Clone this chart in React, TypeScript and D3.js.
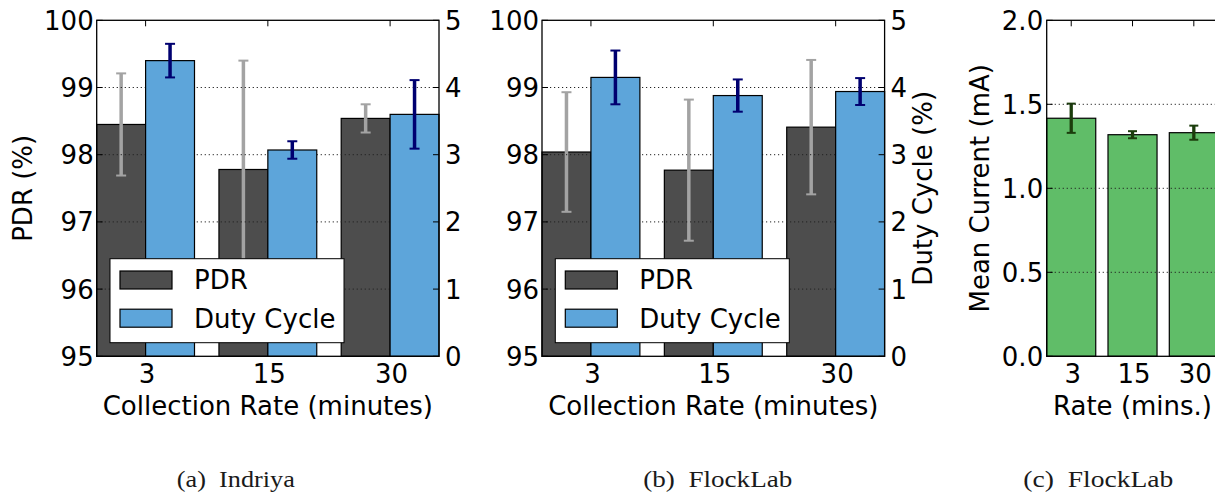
import React from "react";
import * as d3 from "d3";

// ---------- data ----------
const rates = ["3", "15", "30"];

const indriyaPdr = [98.45, 97.78, 98.54];
const indriyaPdrErr = [0.76, 1.62, 0.21];
const indriyaDuty = [4.4, 3.07, 3.6];
const indriyaDutyErr = [0.25, 0.13, 0.51];

const flocklabPdr = [98.04, 97.77, 98.41];
const flocklabPdrErr = [0.89, 1.05, 1.0];
const flocklabDuty = [4.15, 3.88, 3.94];
const flocklabDutyErr = [0.4, 0.24, 0.2];

const currentMean = [1.417, 1.319, 1.331];
const currentErr = [0.087, 0.021, 0.042];

const pdrTicks = [95, 96, 97, 98, 99, 100];
const dutyTicks = [0, 1, 2, 3, 4, 5];
const currentTicks = [0, 0.5, 1.0, 1.5, 2.0];

const captions = ["(a)  Indriya", "(b)  FlockLab", "(c)  FlockLab"];

// ---------- style ----------
const FONT = "DejaVu Sans, Verdana, sans-serif";
const FS = 26;
const C_PDR = "#4d4d4d";
const C_DUTY = "#5da5da";
const C_CUR = "#60bd68";
const C_PDR_ERR = "#a3a3a3";
const C_DUTY_ERR = "#000070";
const C_CUR_ERR = "#1b3d0c";

const TOP = 20.3;
const BOTTOM = 356.3;
const TICK = 6;
const VOFF = 9.4;

function ErrBar({ x, y0, y1, color, w = 3.5, cap = 10 }: any) {
  return (
    <g>
      <line x1={x} x2={x} y1={y0} y2={y1} stroke={color} strokeWidth={w} />
      <line x1={x - cap / 2} x2={x + cap / 2} y1={y0} y2={y0} stroke={color} strokeWidth={2} />
      <line x1={x - cap / 2} x2={x + cap / 2} y1={y1} y2={y1} stroke={color} strokeWidth={2} />
    </g>
  );
}

function DualPanel({ left, right, pdr, pdrErr, duty, dutyErr, showRightLabel }: any) {
  const x = d3.scaleLinear().domain([-0.4, 2.4]).range([left, right]);
  const yL = d3.scaleLinear().domain([95, 100]).range([BOTTOM, TOP]);
  const yR = d3.scaleLinear().domain([0, 5]).range([BOTTOM, TOP]);
  const bw = 0.4;
  const idx = rates.map((_, i) => i);
  const gridVals = pdrTicks.filter((t) => t > 95 && t < 100);
  const legX = left + 13.3;
  const legY = 258.7;
  return (
    <g fontFamily={FONT}>
      {idx.map((i) => (
        <rect
          key={"p" + i}
          x={x(i - bw)}
          y={yL(pdr[i])}
          width={x(i) - x(i - bw)}
          height={BOTTOM - yL(pdr[i])}
          fill={C_PDR}
          stroke="#000"
          strokeWidth={1.2}
        />
      ))}
      {idx.map((i) => (
        <ErrBar
          key={"pe" + i}
          x={x(i - bw / 2)}
          y0={yL(pdr[i] + pdrErr[i])}
          y1={yL(pdr[i] - pdrErr[i])}
          color={C_PDR_ERR}
        />
      ))}
      {gridVals.map((t) => (
        <line
          key={"g" + t}
          x1={left}
          x2={right}
          y1={yL(t)}
          y2={yL(t)}
          stroke="#222"
          strokeWidth={1}
          strokeDasharray="1.2,2.8"
        />
      ))}
      {pdrTicks.map((t) => (
        <line key={"lt" + t} x1={left} x2={left + TICK} y1={yL(t)} y2={yL(t)} stroke="#000" strokeWidth={1} />
      ))}
      {idx.map((i) => (
        <line key={"tt" + i} x1={x(i)} x2={x(i)} y1={TOP} y2={TOP + TICK} stroke="#000" strokeWidth={1} />
      ))}
      {idx.map((i) => (
        <rect
          key={"d" + i}
          x={x(i)}
          y={yR(duty[i])}
          width={x(i + bw) - x(i)}
          height={BOTTOM - yR(duty[i])}
          fill={C_DUTY}
          stroke="#000"
          strokeWidth={1.2}
        />
      ))}
      {idx.map((i) => (
        <ErrBar
          key={"de" + i}
          x={x(i + bw / 2)}
          y0={yR(duty[i] + dutyErr[i])}
          y1={yR(duty[i] - dutyErr[i])}
          color={C_DUTY_ERR}
        />
      ))}
      {dutyTicks.map((t) => (
        <line key={"rt" + t} x1={right - TICK} x2={right} y1={yR(t)} y2={yR(t)} stroke="#000" strokeWidth={1} />
      ))}
      <rect x={left} y={TOP} width={right - left} height={BOTTOM - TOP} fill="none" stroke="#000" strokeWidth={1.3} />
      <rect x={legX} y={legY} width={234} height={84} fill="#fff" stroke="#000" strokeWidth={1} />
      <rect x={legX + 10} y={legY + 12.3} width={52} height={18} fill={C_PDR} stroke="#000" strokeWidth={1.2} />
      <rect x={legX + 10} y={legY + 50.5} width={52} height={18} fill={C_DUTY} stroke="#000" strokeWidth={1.2} />
      <text x={legX + 84} y={legY + 30} fontSize={FS}>PDR</text>
      <text x={legX + 84} y={legY + 69} fontSize={FS}>Duty Cycle</text>
      {pdrTicks.map((t) => (
        <text key={"ll" + t} x={left - 3} y={yL(t) + VOFF} fontSize={FS} textAnchor="end">
          {t}
        </text>
      ))}
      {dutyTicks.map((t) => (
        <text key={"rl" + t} x={right + 6} y={yR(t) + VOFF} fontSize={FS} textAnchor="start">
          {t}
        </text>
      ))}
      {idx.map((i) => (
        <text key={"xl" + i} x={x(i) + 1.5} y={382.5} fontSize={FS} textAnchor="middle">
          {rates[i]}
        </text>
      ))}
      <text x={(left + right) / 2} y={415} fontSize={FS} textAnchor="middle">
        Collection Rate (minutes)
      </text>
      {showRightLabel ? (
        <text transform={`translate(${right + 47},${(TOP + BOTTOM) / 2}) rotate(-90)`} fontSize={FS} textAnchor="middle">
          Duty Cycle (%)
        </text>
      ) : null}
    </g>
  );
}

function CurrentPanel({ left }: any) {
  const unit = 61.3;
  const right = left + 2.8 * unit;
  const x = d3.scaleLinear().domain([-0.4, 2.4]).range([left, right]);
  const y = d3.scaleLinear().domain([0, 2]).range([BOTTOM, TOP]);
  const idx = rates.map((_, i) => i);
  const bw = 0.8;
  const fmt = d3.format(".1f");
  return (
    <g fontFamily={FONT}>
      {idx.map((i) => (
        <rect
          key={"c" + i}
          x={x(i - bw / 2)}
          y={y(currentMean[i])}
          width={x(i + bw / 2) - x(i - bw / 2)}
          height={BOTTOM - y(currentMean[i])}
          fill={C_CUR}
          stroke="#000"
          strokeWidth={1.2}
        />
      ))}
      {idx.map((i) => (
        <ErrBar
          key={"ce" + i}
          x={x(i)}
          y0={y(currentMean[i] + currentErr[i])}
          y1={y(currentMean[i] - currentErr[i])}
          color={C_CUR_ERR}
          w={3.3}
          cap={9}
        />
      ))}
      {currentTicks
        .filter((t) => t > 0 && t < 2)
        .map((t) => (
          <line
            key={"g" + t}
            x1={left}
            x2={right}
            y1={y(t)}
            y2={y(t)}
            stroke="#222"
            strokeWidth={1}
            strokeDasharray="1.2,2.8"
          />
        ))}
      {currentTicks.map((t) => (
        <line key={"lt" + t} x1={left} x2={left + TICK} y1={y(t)} y2={y(t)} stroke="#000" strokeWidth={1} />
      ))}
      {idx.map((i) => (
        <line key={"tt" + i} x1={x(i)} x2={x(i)} y1={TOP} y2={TOP + TICK} stroke="#000" strokeWidth={1} />
      ))}
      <rect x={left} y={TOP} width={right - left} height={BOTTOM - TOP} fill="none" stroke="#000" strokeWidth={1.3} />
      {currentTicks.map((t) => (
        <text key={"ll" + t} x={left - 3.5} y={y(t) + VOFF} fontSize={FS} textAnchor="end">
          {fmt(t)}
        </text>
      ))}
      {idx.map((i) => (
        <text key={"xl" + i} x={x(i) + 1.5} y={382.5} fontSize={FS} textAnchor="middle">
          {rates[i]}
        </text>
      ))}
      <text x={(left + right) / 2} y={415} fontSize={FS} textAnchor="middle">
        Rate (mins.)
      </text>
      <text transform={`translate(${left - 58},${(TOP + BOTTOM) / 2}) rotate(-90)`} fontSize={FS} textAnchor="middle">
        Mean Current (mA)
      </text>
    </g>
  );
}

export default function App() {
  const capX = [235.8, 717.8, 1098.3];
  const capW = [118, 149, 150];
  return (
    <svg
      width={1215}
      height={494}
      viewBox="0 0 1215 494"
      style={{ position: "absolute", left: 0, top: 0, background: "#fff" }}
    >
      <rect x={0} y={0} width={1215} height={494} fill="#fff" />
      <DualPanel
        left={96.7}
        right={439}
        pdr={indriyaPdr}
        pdrErr={indriyaPdrErr}
        duty={indriyaDuty}
        dutyErr={indriyaDutyErr}
        showRightLabel={false}
      />
      <text transform={`translate(32,${(TOP + BOTTOM) / 2}) rotate(-90)`} fontFamily={FONT} fontSize={FS} textAnchor="middle">
        PDR (%)
      </text>
      <DualPanel
        left={542}
        right={884.6}
        pdr={flocklabPdr}
        pdrErr={flocklabPdrErr}
        duty={flocklabDuty}
        dutyErr={flocklabDutyErr}
        showRightLabel={true}
      />
      <CurrentPanel left={1046.7} />
      {captions.map((c, i) => (
        <text
          key={c}
          x={capX[i]}
          y={486.5}
          fontFamily="Liberation Serif, Times New Roman, serif"
          fontSize={23}
          fill="#1a1a1a"
          textAnchor="middle"
          textLength={capW[i]}
          lengthAdjust="spacingAndGlyphs"
          style={{ whiteSpace: "pre" }}
        >
          {c}
        </text>
      ))}
    </svg>
  );
}
